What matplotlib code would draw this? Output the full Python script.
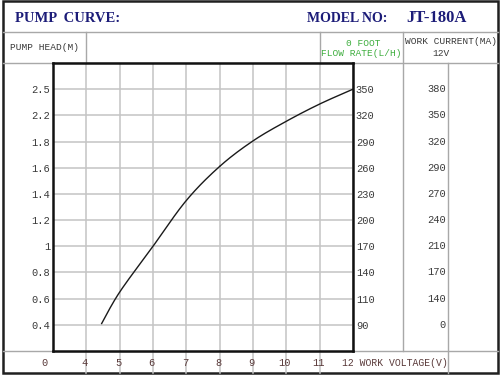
import numpy as np
import matplotlib
matplotlib.use('Agg')
import matplotlib.pyplot as plt

# chart values
volt_labels = ['0', '4', '5', '6', '7', '8', '9', '10', '11', '12']
head_labels = ['0.4', '0.6', '0.8', '1', '1.2', '1.4', '1.6', '1.8', '2.2', '2.5']
flow_labels = ['90', '110', '140', '170', '200', '230', '260', '290', '320', '350']
current_labels = ['0', '140', '170', '210', '240', '270', '290', '320', '350', '380']

head_ticks = [0.4, 0.6, 0.8, 1.0, 1.2, 1.4, 1.6, 1.8, 2.2, 2.5]
volt_ticks = [3, 4, 5, 6, 7, 8, 9, 10, 11, 12]

curve_volt = [4.46, 5, 6, 7, 8, 9, 10, 11, 12]
curve_head = [0.41, 0.65, 1.00, 1.35, 1.61, 1.81, 2.11, 2.33, 2.50]

W, H = 500, 376
MONO = 'Liberation Mono'
TXT = '#3a3a3a'
NAVY = '#1c1c78'
GRID = '#c4c4c4'


def catmull_rom(x, y, n=20):
    # smooth line through the read points
    px = np.concatenate([[x[0]], x, [x[-1]]])
    py = np.concatenate([[y[0]], y, [y[-1]]])
    out_x, out_y = [], []
    t = np.linspace(0, 1, n)
    for i in range(1, len(px) - 2):
        for p, o in ((px, out_x), (py, out_y)):
            p0, p1, p2, p3 = p[i - 1], p[i], p[i + 1], p[i + 2]
            o.extend(0.5 * (2 * p1 + (-p0 + p2) * t + (2 * p0 - 5 * p1 + 4 * p2 - p3) * t ** 2
                            + (-p0 + 3 * p1 - 3 * p2 + p3) * t ** 3))
    return np.array(out_x), np.array(out_y)


fig = plt.figure(figsize=(W / 100, H / 100), dpi=100)

# overlay in pixel units for the table frame
bg = fig.add_axes([0, 0, 1, 1])
bg.set_xlim(0, W)
bg.set_ylim(H, 0)
bg.axis('off')
bg.add_patch(plt.Rectangle((3, 1), 495, 372, fill=False, ec='#202020', lw=1.8))
for y in (32, 63, 351):
    bg.plot([3, 498], [y, y], color='#a8a8a8', lw=1)
bg.plot([403, 403], [32, 351], color='#a8a8a8', lw=1)
bg.plot([448, 448], [63, 373], color='#a8a8a8', lw=1)

bg.text(15, 18, 'PUMP  CURVE:', color=NAVY, fontsize=10.5, fontweight='bold',
        family='Liberation Serif', va='center', ha='left')
bg.text(307, 18, 'MODEL NO:', color=NAVY, fontsize=10, fontweight='bold',
        family='Liberation Serif', va='center', ha='left')
bg.text(406, 18, 'JT-180A', color=NAVY, fontsize=12, fontweight='bold',
        family='Liberation Serif', va='center', ha='left')
bg.text(10, 47, 'PUMP HEAD(M)', color=TXT, fontsize=6.8, family=MONO, va='center')
bg.text(363, 43, '0 FOOT', color='#3fae3f', fontsize=6.8, family=MONO, va='center', ha='center')
bg.text(361, 54, 'FLOW RATE(L/H)', color='#3fae3f', fontsize=6.8, family=MONO, va='center', ha='center')
bg.text(405, 42, 'WORK CURRENT(MA)', color=TXT, fontsize=6.8, family=MONO, va='center', ha='left')
bg.text(441, 54, '12V', color=TXT, fontsize=6.8, family=MONO, va='center', ha='center')

# main plot, grid positions are index based
ax = fig.add_axes([53 / W, (H - 351) / H, 300 / W, 288 / H])
ax.set_xlim(0, 9)
ax.set_ylim(0, 11)
ax.set_xticks(range(10))
ax.set_yticks(range(1, 11))
ax.set_yticklabels(head_labels, family=MONO, fontsize=7.5, color=TXT)
ax.set_xticklabels([])
ax.grid(True, color=GRID, lw=1.1)
ax.tick_params(length=0, pad=2)
for s in ax.spines.values():
    s.set_linewidth(1.8)
    s.set_color('#111111')

# grid lines continuing into the header and the label row
for i in range(1, 9):
    ax.axvline(i, ymin=-22 / 288, ymax=0, color=GRID, lw=1.1, clip_on=False)
for i in (1, 8):
    ax.axvline(i, ymin=1, ymax=1 + 31 / 288, color='#a8a8a8', lw=1, clip_on=False)

ax2 = ax.twinx()
ax2.set_ylim(0, 11)
ax2.set_yticks(range(1, 11))
ax2.set_yticklabels(flow_labels, family=MONO, fontsize=7.5, color=TXT)
ax2.tick_params(length=0, pad=2)
for s in ax2.spines.values():
    s.set_visible(False)

for i, lab in enumerate(current_labels):
    ax.text(1.31, i + 1, lab, transform=ax.get_yaxis_transform(), ha='right', va='center',
            family=MONO, fontsize=7.5, color=TXT)

XCOL = '#5a3a3a'
for i, lab in enumerate(volt_labels[:-1]):
    xpos = -0.27 if i == 0 else i - 0.04
    ax.text(xpos, -12 / 288, lab, transform=ax.get_xaxis_transform(), ha='center', va='center',
            family=MONO, fontsize=7.5, color=XCOL)
ax.text(8.67, -12 / 288, volt_labels[-1] + ' WORK VOLTAGE(V)', transform=ax.get_xaxis_transform(),
        ha='left', va='center', family=MONO, fontsize=7, color=XCOL)

# curve, mapped onto the index grid
cx = np.interp(curve_volt, volt_ticks, np.arange(len(volt_ticks)))
cy = np.interp(curve_head, head_ticks, np.arange(1, 11))
sx, sy = catmull_rom(cx, cy)
ax.plot(sx, sy, color='#1a1a1a', lw=1.0)

fig.savefig('out.png', dpi=100)
